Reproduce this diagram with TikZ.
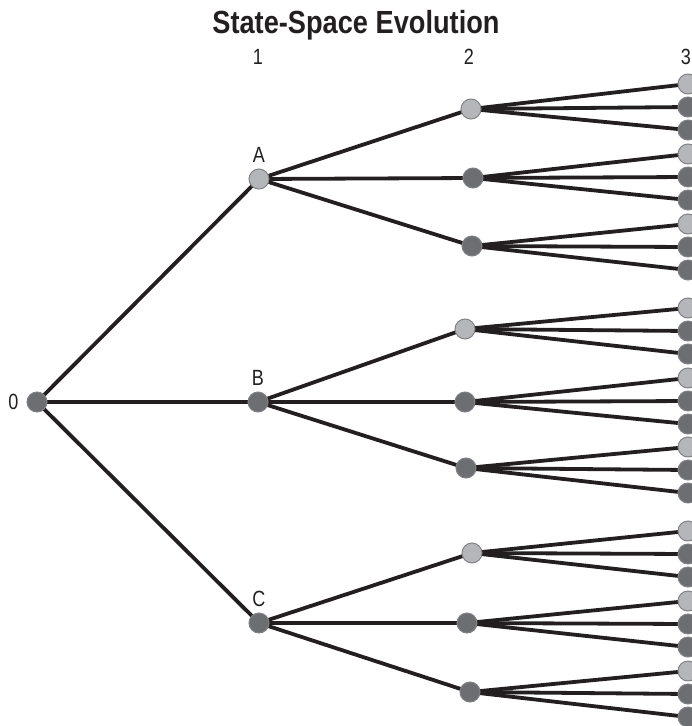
\documentclass[tikz,border=0pt]{standalone}
\usepackage{fontspec}
\setmainfont{Liberation Sans}
\newfontfamily\titlefont[FakeStretch=0.85]{Liberation Sans}
\newfontfamily\stagefont[FakeStretch=0.82]{Liberation Sans}
\usetikzlibrary{positioning,backgrounds}
\definecolor{ink}{HTML}{231F20}
\definecolor{lite}{HTML}{B4B6B9}
\definecolor{dark}{HTML}{6D6E71}
\definecolor{rim}{HTML}{808285}

\begin{document}
\begin{tikzpicture}[x=1pt,y=-1pt,
  state/.style={circle,draw=rim,line width=1pt,inner sep=0pt,minimum size=20pt},
  lo/.style={state,fill=lite},
  hi/.style={state,fill=dark},
  edge/.style={ink,line width=3.8pt},
  lab/.style={font=\stagefont\fontsize{22}{22}\selectfont,text=ink,inner sep=0pt}]
\useasboundingbox (0,0) rectangle (692,726);

% title and stage numbers
\node[font=\titlefont\bfseries\fontsize{32}{32}\selectfont,text=ink] (title)
  at (356,25) {State-Space Evolution};
\foreach \n/\x in {1/258,2/469,3/686}
  \node[lab] (stage\n) at (\x,57) {\n};

% root
\node[hi] (n0) at (37,402) {};
\node[lab,left=8pt of n0] (lab0) {0};

% first stage
\foreach \p/\x/\y/\s in {A/259/179/lo,B/258/402/hi,C/259/623/hi}{
  \node[\s] (\p) at (\x,\y) {};
  \node[lab,above=6pt of \p] (lab\p) {\p};
}

% second stage
\foreach \p/\x/\y/\s in {A1/471/109/lo,A2/473/178/hi,A3/472/246/hi,
    B1/465/329/lo,B2/465/402/hi,B3/466/468/hi,
    C1/472/553/lo,C2/467/623/hi,C3/470/692/hi}
  \node[\s] (\p) at (\x,\y) {};

% third stage
\foreach \p/\y in {A1/107,A2/177,A3/247,B1/331,B2/401,B3/470,
    C1/554,C2/624,C3/694}
  \foreach \k/\d/\s in {1/-23/lo,2/0/hi,3/23/hi}
    \node[\s] (\p\k) at (688,\y+\d) {};

% branches
\begin{scope}[on background layer]
  \foreach \p in {A,B,C}{
    \draw[edge] (n0.center) -- (\p.center);
    \foreach \q in {1,2,3}{
      \draw[edge] (\p.center) -- (\p\q.center);
      \foreach \r in {1,2,3}
        \draw[edge] (\p\q.center) -- (\p\q\r.center);
    }
  }
\end{scope}
\end{tikzpicture}
\end{document}
